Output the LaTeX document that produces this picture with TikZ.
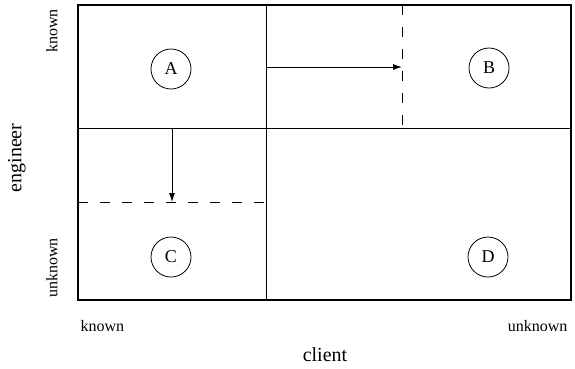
\documentclass[tikz,border=0pt]{standalone}
\usepackage{fontspec}
\setmainfont{Liberation Serif}
\usetikzlibrary{arrows.meta}
\begin{document}
\begin{tikzpicture}[x=1pt,y=-1pt,
  thin line/.style={line width=0.9pt},
  dashline/.style={line width=0.9pt, dash pattern=on 10pt off 12pt},
  quad/.style={circle, draw, line width=0.8pt, minimum size=40pt, inner sep=0pt, font=\fontsize{18}{20}\selectfont},
  axislab/.style={font=\fontsize{16}{18}\selectfont},
  axistitle/.style={font=\fontsize{20}{22}\selectfont},
  arr/.style={thin line, -{Latex[length=9pt,width=6pt]}}]
\useasboundingbox (0,0) rectangle (575,368);
% corners and division points
\coordinate (tl) at (78,5);
\coordinate (br) at (571,300);
\coordinate (vtop) at (266,5);
\coordinate (vbot) at (266,300);
\coordinate (hl) at (78,128);
\coordinate (hr) at (571,128);
\coordinate (dvtop) at (402,5);
\coordinate (dvbot) at (402,128);
\coordinate (dhl) at (78,202);
\coordinate (dhr) at (266,202);
\coordinate (a1s) at (266,67);
\coordinate (a1e) at (402,67);
\coordinate (a2s) at (172,128);
\coordinate (a2e) at (172,202);
% grid
\draw[thin line] (vtop) -- (vbot);
\draw[thin line] (hl) -- (hr);
\draw[dashline] (dvtop) -- (dvbot);
\draw[dashline] (dhl) -- (dhr);
\draw[line width=1.8pt] (tl) rectangle (br);
% arrows
\draw[arr] (a1s) -- (a1e);
\draw[arr] (a2s) -- (a2e);
% quadrant labels
\node[quad] (A) at (171,69) {A};
\node[quad] (B) at (489,68) {B};
\node[quad] (C) at (171,257) {C};
\node[quad] (D) at (488,257) {D};
% axis labels
\node[axislab, rotate=90] (ekn) at (52,31) {known};
\node[axislab, rotate=90] (eun) at (52,268) {unknown};
\node[axistitle, rotate=90] (eng) at (17,158) {engineer};
\node[axislab, anchor=base west] (ckn) at (77,331) {known};
\node[axislab, anchor=base east] (cun) at (571,331) {unknown};
\node[axistitle, anchor=base] (cl) at (325,361) {client};
\end{tikzpicture}
\end{document}
